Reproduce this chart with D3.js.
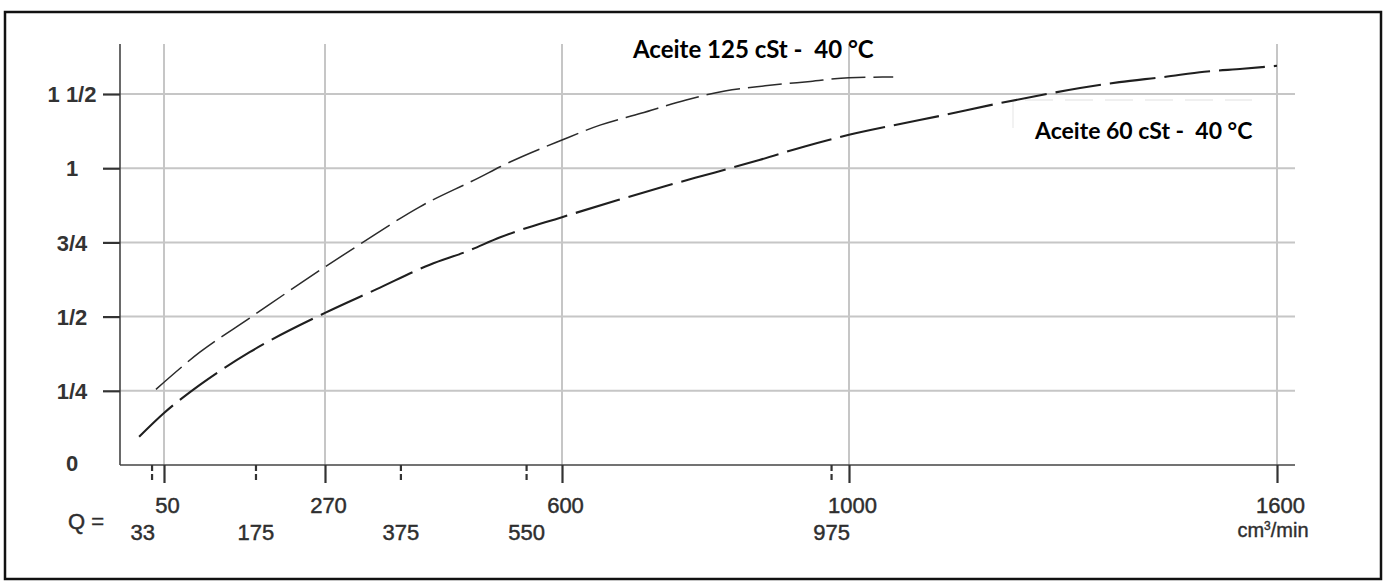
<!DOCTYPE html>
<html>
<head>
<meta charset="utf-8">
<script src="https://cdn.jsdelivr.net/npm/d3@7"></script>
<style>
  body { margin: 0; background: #fff; }
</style>
</head>
<body>
<svg id="chart"></svg>
<script>
// flow rates on the x axis (cm3/min)
const majorQ = [50, 270, 600, 1000, 1600];
const minorQ = [33, 175, 375, 550, 975];
// pipe sizes on the y axis, evenly spaced steps
const sizeLabels = ["0", "1/4", "1/2", "3/4", "1", "1 1/2"];
const sizeSteps = [0, 1, 2, 3, 4, 5];

// curves: [Q, size step]
const oil125 = [
  [39, 1.02], [99, 1.52], [167, 1.98], [270, 2.67], [321, 2.99],
  [402, 3.48], [486, 3.88], [514, 4.02], [600, 4.38], [653, 4.58],
  [710, 4.74], [773, 4.92], [827, 5.04], [883, 5.11], [946, 5.17],
  [1000, 5.22], [1062, 5.23]
];
const oil60 = [
  [16, 0.38], [50, 0.70], [99, 1.08], [167, 1.52], [270, 2.05],
  [342, 2.37], [416, 2.70], [468, 2.88], [514, 3.07], [600, 3.34],
  [678, 3.57], [741, 3.75], [812, 3.94], [875, 4.11], [937, 4.29],
  [1000, 4.45], [1063, 4.58], [1135, 4.72], [1198, 4.85], [1261, 4.97],
  [1324, 5.08], [1379, 5.16], [1442, 5.23], [1498, 5.30], [1552, 5.34],
  [1600, 5.38]
];
const seriesNames = ["Aceite 125 cSt -  40 °C", "Aceite 60 cSt -  40 °C"];

const width = 1383;
const height = 585;
const labelFont = "'Liberation Sans', Arial, sans-serif";

const svg = d3.select("#chart")
  .attr("width", width)
  .attr("height", height);

// frame
svg.append("rect")
  .attr("x", 5).attr("y", 12)
  .attr("width", 1376).attr("height", 567)
  .attr("fill", "none")
  .attr("stroke", "#111")
  .attr("stroke-width", 2.5);

// the scan is not quite linear, so anchor the scale on the labelled flows
const x = d3.scaleLinear()
  .domain(majorQ)
  .range([164, 325, 562, 849, 1277]);

const y = d3.scaleLinear()
  .domain([0, 5])
  .range([465, 94]);

const plotLeft = 120, plotRight = 1295, plotTop = 44, plotBottom = y(0);

// grid
const grid = svg.append("g").attr("stroke", "#c6c6c6").attr("stroke-width", 2);
grid.selectAll(".vg")
  .data(majorQ)
  .join("line")
  .attr("x1", d => x(d)).attr("x2", d => x(d))
  .attr("y1", plotTop).attr("y2", plotBottom);
grid.selectAll(".hg")
  .data(sizeSteps.slice(1))
  .join("line")
  .attr("x1", plotLeft).attr("x2", plotRight)
  .attr("y1", d => y(d)).attr("y2", d => y(d));

// faint box edge around the 60 cSt note
svg.append("path")
  .attr("d", "M1013,128V100H1252")
  .attr("fill", "none")
  .attr("stroke", "#ececec")
  .attr("stroke-width", 1.3)
  .attr("stroke-dasharray", "28,12");

// axis lines
svg.append("line")
  .attr("x1", plotLeft).attr("x2", plotLeft)
  .attr("y1", plotTop).attr("y2", plotBottom)
  .attr("stroke", "#444").attr("stroke-width", 1.6);
svg.append("line")
  .attr("x1", plotLeft).attr("x2", plotRight)
  .attr("y1", plotBottom).attr("y2", plotBottom)
  .attr("stroke", "#444").attr("stroke-width", 1.6);

// y axis
const yAxis = d3.axisLeft(y)
  .tickValues(sizeSteps)
  .tickSize(17)
  .tickFormat((d, i) => sizeLabels[i]);

const ay = svg.append("g")
  .attr("transform", `translate(${plotLeft},0)`)
  .call(yAxis);
ay.select(".domain").remove();
ay.selectAll(".tick line")
  .attr("stroke", "#333")
  .attr("stroke-width", 2.2)
  .filter(d => d === 0).remove();
ay.selectAll(".tick text")
  .attr("x", -48)
  .attr("dy", "0.35em")
  .attr("text-anchor", "middle")
  .attr("fill", "#333")
  .style("font-family", labelFont)
  .style("font-weight", "bold")
  .style("font-size", "22px")
  .style("white-space", "pre");
ay.selectAll(".tick").filter(d => d === 0).select("text").attr("dy", "0.25em");

function styleXLabels(sel, rowY) {
  sel.attr("y", rowY)
    .attr("dy", "0.35em")
    .attr("fill", "#2e2e2e")
    .attr("stroke", "#2e2e2e")
    .attr("stroke-width", 0.45)
    .style("font-family", labelFont)
    .style("font-size", "22px");
}

// x axis, labelled flows
const xMajor = d3.axisBottom(x)
  .tickValues(majorQ)
  .tickSize(18)
  .tickFormat(d3.format("d"));

const axMajor = svg.append("g")
  .attr("transform", `translate(0,${plotBottom})`)
  .call(xMajor);
axMajor.select(".domain").remove();
axMajor.selectAll(".tick line").attr("stroke", "#333").attr("stroke-width", 2.2);
styleXLabels(axMajor.selectAll(".tick text"), 40);
axMajor.selectAll(".tick text").attr("x", 3);

// x axis, second row of flows with dashed ticks
const xMinor = d3.axisBottom(x)
  .tickValues(minorQ)
  .tickSize(18)
  .tickFormat(d3.format("d"));

const axMinor = svg.append("g")
  .attr("transform", `translate(0,${plotBottom})`)
  .call(xMinor);
axMinor.select(".domain").remove();
axMinor.selectAll(".tick line")
  .attr("stroke", "#333")
  .attr("stroke-width", 2.2)
  .attr("stroke-dasharray", "6,3");
styleXLabels(axMinor.selectAll(".tick text"), 67);
// first label sits left of its tick, clear of "50"
axMinor.selectAll(".tick").filter((d, i) => i === 0).select("text")
  .attr("text-anchor", "end")
  .attr("x", 3);

const qLabel = svg.append("text")
  .attr("x", 86)
  .attr("text-anchor", "middle")
  .text("Q =");
styleXLabels(qLabel, 521);

// the unit sits under the last flow label
const unit = svg.append("text")
  .attr("x", x(1600) - 4).attr("y", 537)
  .attr("text-anchor", "middle")
  .attr("fill", "#2e2e2e")
  .attr("stroke", "#2e2e2e")
  .attr("stroke-width", 0.4)
  .style("font-family", labelFont)
  .style("font-size", "20px");
unit.append("tspan").text("cm");
unit.append("tspan").attr("dy", -7).style("font-size", "12px").text("3");
unit.append("tspan").attr("dy", 7).text("/min");

// curves
const line = d3.line()
  .x(d => x(d[0]))
  .y(d => y(d[1]))
  .curve(d3.curveMonotoneX);

svg.append("path")
  .datum(oil125)
  .attr("d", line)
  .attr("fill", "none")
  .attr("stroke", "#2b2b2b")
  .attr("stroke-width", 1.5)
  .attr("stroke-dasharray", "34,8");

svg.append("path")
  .datum(oil60)
  .attr("d", line)
  .attr("fill", "none")
  .attr("stroke", "#1f1f1f")
  .attr("stroke-width", 2.1)
  .attr("stroke-dasharray", "46,9");

// curve names
svg.append("text")
  .attr("x", 633).attr("y", 58)
  .style("font-family", "Lato, 'Open Sans', sans-serif")
  .style("font-weight", "bold")
  .style("font-size", "24px")
  .style("white-space", "pre")
  .text(seriesNames[0]);

svg.append("text")
  .attr("x", 1035).attr("y", 139)
  .style("font-family", "Lato, 'Open Sans', sans-serif")
  .style("font-weight", "bold")
  .style("font-size", "23px")
  .style("white-space", "pre")
  .text(seriesNames[1]);
</script>
</body>
</html>
